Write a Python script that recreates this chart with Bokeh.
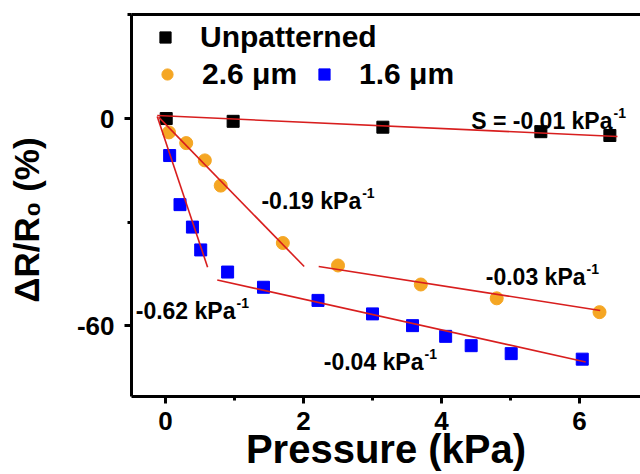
from bokeh.plotting import figure
from bokeh.models import (ColumnDataSource, Legend, LegendItem, LinearAxis,
                          FixedTicker, Range1d)
from bokeh.embed import file_html
from bokeh.resources import INLINE
from bokeh.core.properties import value

# ---------------- data ----------------
unpat_x = [0.01, 0.98, 3.15, 5.44, 6.44]
unpat_y = [0.0, -0.8, -2.5, -3.8, -4.9]

p26_x = [0.05, 0.30, 0.57, 0.80, 1.70, 2.50, 3.70, 4.80, 6.29]
p26_y = [-4.0, -7.1, -12.1, -19.4, -36.0, -42.5, -48.0, -52.0, -56.0]

p16_x = [0.06, 0.21, 0.39, 0.51, 0.90, 1.42, 2.21, 3.00, 3.58, 4.06, 4.43, 5.01, 6.04]
p16_y = [-10.7, -24.9, -31.4, -38.0, -44.4, -48.8, -52.6, -56.5, -59.9, -63.0, -65.7, -68.0, -69.6]

# linear fits (start / end points)
fit_x0 = [-0.12, -0.10, 2.22, -0.12, 0.75]
fit_y0 = [0.87, 0.4, -42.8, 0.6, -46.7]
fit_x1 = [6.55, 2.01, 6.30, 0.61, 6.09]
fit_y1 = [-5.2, -42.8, -55.5, -43.0, -70.4]

# slope annotations
slope_text = ["S = -0.01 kPa", "-0.19 kPa", "-0.03 kPa", "-0.62 kPa", "-0.04 kPa"]
slope_sup = ["-1", "-1", "-1", "-1", "-1"]
slope_x = [6.478, 2.836, 6.087, 1.014, 3.739]
slope_y = [-0.58, -23.71, -45.89, -55.73, -70.47]

x_ticks = [0, 2, 4, 6]
x_minor = [1, 3, 5]
y_ticks = [-60, 0]
y_minor = [-30, 30]
y_tick_labels = {-60: "-60", 0: "0"}

FONT = "Liberation Sans"
RED = "#D81E1E"
ORANGE = "#F5A623"
BLUE = "#0000FF"

p = figure(width=640, height=474,
           x_range=Range1d(-0.493, 6.884), y_range=Range1d(-80.4, 30.1),
           output_backend="svg", toolbar_location=None,
           min_border_left=131, min_border_right=0,
           min_border_top=14, min_border_bottom=78)
p.outline_line_color = None
p.xgrid.grid_line_color = None
p.ygrid.grid_line_color = None
p.background_fill_color = "white"
p.border_fill_color = "white"

p.xaxis.ticker = FixedTicker(ticks=x_ticks, minor_ticks=x_minor)
p.yaxis.ticker = FixedTicker(ticks=y_ticks, minor_ticks=y_minor)
p.yaxis.major_label_overrides = y_tick_labels
for ax in (p.xaxis[0], p.yaxis[0]):
    ax.axis_line_width = 3
    ax.axis_line_color = "black"
    ax.major_tick_line_width = 3
    ax.minor_tick_line_width = 3
    ax.major_tick_in = 0
    ax.major_tick_out = 7
    ax.minor_tick_in = 0
    ax.minor_tick_out = 4
    ax.major_label_text_font = FONT
    ax.major_label_text_font_style = "bold"
    ax.major_label_text_font_size = "26px"
    ax.major_label_text_color = "black"
    ax.axis_label_text_font = FONT
    ax.axis_label_text_font_style = "bold"
    ax.axis_label_text_color = "black"
p.xaxis.major_label_standoff = 8
p.yaxis.major_label_standoff = 10
p.xaxis.axis_label = "Pressure (kPa)"
p.xaxis.axis_label_text_font_size = "40px"
p.xaxis.axis_label_standoff = -6
p.yaxis.axis_label = "\u0394R/R\u2080 (%)\u00a0\u00a0\u00a0"
p.yaxis.axis_label_text_font_size = "35px"
p.yaxis.axis_label_standoff = 28

top = LinearAxis(ticker=FixedTicker(ticks=[]), axis_line_width=3,
                 axis_line_color="black",
                 major_tick_line_color=None, minor_tick_line_color=None,
                 major_tick_out=0, minor_tick_out=0, major_tick_in=0,
                 minor_tick_in=0, major_label_standoff=0,
                 major_label_text_font_size="0px")
p.add_layout(top, "above")

# markers
r_black = p.scatter(unpat_x, unpat_y, marker="square", size=12,
                    fill_color="black", line_color="black")
r_orange = p.scatter(p26_x, p26_y, marker="circle", size=13,
                     fill_color=ORANGE, line_color=ORANGE)
r_blue = p.scatter(p16_x, p16_y, marker="square", size=12,
                   fill_color=BLUE, line_color=BLUE)

# fits
p.segment(x0=fit_x0, y0=fit_y0, x1=fit_x1, y1=fit_y1,
          line_color=RED, line_width=1.6)

# slope annotations
src = ColumnDataSource(dict(x=slope_x, y=slope_y, t=slope_text, s=slope_sup))
p.text(x="x", y="y", text="t", source=src, text_align="right",
       text_baseline="alphabetic", text_font=value(FONT),
       text_font_style="bold", text_font_size="23px", text_color="black")
p.text(x="x", y="y", text="s", source=src, text_align="left",
       text_baseline="alphabetic", text_font=value(FONT),
       text_font_style="bold", text_font_size="14px", text_color="black",
       x_offset=1, y_offset=-8)

# legends
def style(leg):
    leg.label_text_font = FONT
    leg.label_text_font_style = "bold"
    leg.label_text_font_size = "30px"
    leg.label_text_color = "black"
    leg.glyph_width = 28
    leg.glyph_height = 28
    leg.label_standoff = 21
    leg.padding = 0
    leg.margin = 0
    leg.border_line_color = None
    leg.background_fill_alpha = 0

leg1 = Legend(items=[LegendItem(label="Unpatterned", renderers=[r_black])],
              location=(20, 342))
style(leg1)
leg2 = Legend(items=[LegendItem(label="2.6 μm", renderers=[r_orange]),
                     LegendItem(label="1.6 μm", renderers=[r_blue])],
              location=(22, 305), orientation="horizontal", spacing=13)
style(leg2)
p.add_layout(leg1, "center")
p.add_layout(leg2, "center")

open("out.html", "w").write(file_html(p, INLINE))
